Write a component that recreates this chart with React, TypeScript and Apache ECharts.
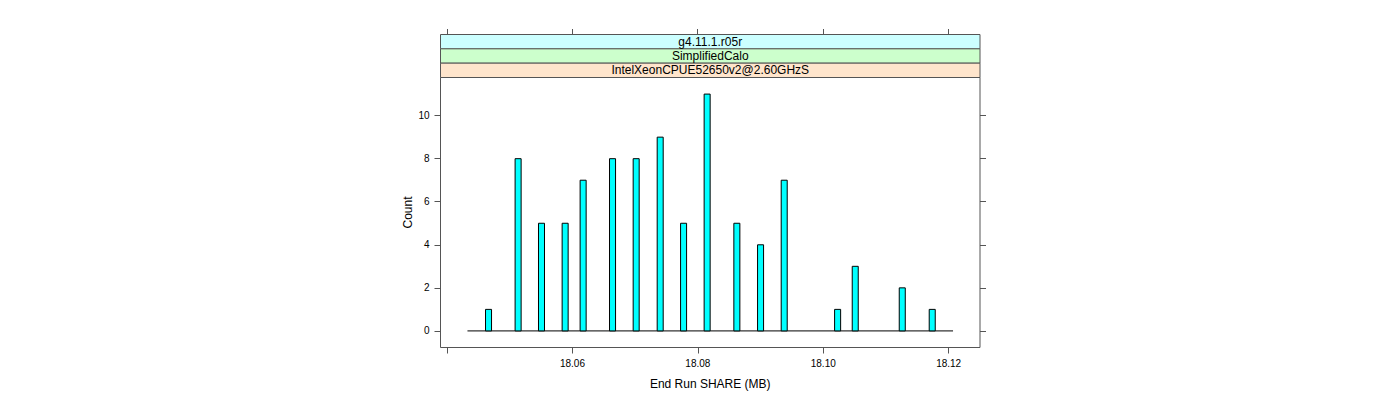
import React, { useEffect, useRef } from "react";
import * as echarts from "echarts";

// Histogram bins (centres) and their counts
const binCenters = [
  18.04661, 18.05133, 18.05506, 18.05883, 18.0617, 18.06639, 18.07016, 18.07399,
  18.07772, 18.08148, 18.08622, 18.09, 18.09377, 18.10229, 18.1051, 18.1126, 18.11738,
];
const counts = [1, 8, 5, 5, 7, 8, 8, 9, 5, 11, 5, 4, 7, 1, 3, 2, 1];
const binWidth = 0.00096;
const histRange = [18.04325, 18.1207];

const xTicks = [18.04, 18.06, 18.08, 18.1, 18.12];
const xLabels = [18.06, 18.08, 18.1, 18.12];
const yTicks = [0, 2, 4, 6, 8, 10];

const strips = ["g4.11.1.r05r", "SimplifiedCalo", "IntelXeonCPUE52650v2@2.60GHzS"];
const stripColors = ["#ccffff", "#ccffcc", "#ffe5cc"];

const xTitle = "End Run SHARE (MB)";
const yTitle = "Count";

const FONT = "'Liberation Sans', Arial, Helvetica, sans-serif";
const AXIS_COL = "#555";

export default function App() {
  const ref = useRef<HTMLDivElement>(null);

  useEffect(() => {
    document.body.style.margin = "0";
    if (!ref.current) return;
    const chart = echarts.init(ref.current, undefined, { renderer: "svg" });

    const gridLeft = 440.5;
    const gridTop = 77.5;
    const gridWidth = 539.5;
    const gridHeight = 270;
    const xMin = 18.03895;
    const xMax = 18.125;
    const yMin = -0.77;
    const yMax = 11.77;

    const stripTop = 34.5;
    const stripH = (gridTop - stripTop) / strips.length;

    const tickStyle = { color: AXIS_COL, width: 1 };
    const noLine = { show: false, onZero: false };

    chart.setOption({
      animation: false,
      backgroundColor: "#fff",
      textStyle: { fontFamily: FONT },
      grid: {
        left: gridLeft,
        top: gridTop,
        width: gridWidth,
        height: gridHeight,
        show: true,
        borderColor: AXIS_COL,
        borderWidth: 1,
        backgroundColor: "transparent",
      },
      xAxis: {
        type: "value",
        position: "bottom",
        min: xMin,
        max: xMax,
        axisLine: noLine,
        splitLine: { show: false },
        axisTick: { show: true, customValues: xTicks, length: 6, lineStyle: tickStyle },
        axisLabel: {
          customValues: xLabels,
          formatter: (v: number) => v.toFixed(2),
          fontSize: 10,
          color: "#000",
          margin: 11,
          fontFamily: FONT,
        },
        name: xTitle,
        nameLocation: "middle",
        nameGap: 30,
        nameTextStyle: { fontSize: 12, color: "#000", fontFamily: FONT },
      },
      yAxis: [
        {
          type: "value",
          position: "left",
          min: yMin,
          max: yMax,
          axisLine: noLine,
          splitLine: { show: false },
          axisTick: { show: true, customValues: yTicks, length: 6, lineStyle: tickStyle },
          axisLabel: {
            customValues: yTicks,
            fontSize: 10,
            color: "#000",
            margin: 11,
            fontFamily: FONT,
          },
          name: yTitle,
          nameLocation: "middle",
          nameGap: 27,
          nameRotate: 90,
          nameTextStyle: { fontSize: 12, color: "#000", fontFamily: FONT },
        },
        {
          type: "value",
          position: "right",
          min: yMin,
          max: yMax,
          axisLine: noLine,
          splitLine: { show: false },
          axisTick: { show: true, customValues: yTicks, length: 6, lineStyle: tickStyle },
          axisLabel: { show: false },
        },
      ],
      series: [
        {
          type: "line",
          data: [
            [histRange[0], 0],
            [histRange[1], 0],
          ],
          symbol: "none",
          lineStyle: { color: "#000", width: 1 },
          silent: true,
          z: 1,
        },
        {
          type: "custom",
          data: binCenters.map((c, i) => [c, counts[i]]),
          renderItem: (params: any, api: any) => {
            const c = api.value(0);
            const n = api.value(1);
            const p0 = api.coord([c - binWidth / 2, n]);
            const p1 = api.coord([c + binWidth / 2, 0]);
            return {
              type: "rect",
              shape: { x: p0[0], y: p0[1], width: p1[0] - p0[0], height: p1[1] - p0[1] },
              style: { fill: "#00ffff", stroke: "#000", lineWidth: 1 },
            };
          },
          encode: { x: 0, y: 1 },
          silent: true,
          z: 2,
        },
      ],
    });

    // strips and the top-axis ticks (positions from the chart's own x scale)
    const graphics: any[] = [];
    strips.forEach((s, i) => {
      graphics.push({
        type: "rect",
        shape: { x: gridLeft, y: stripTop + i * stripH, width: gridWidth, height: stripH },
        style: { fill: stripColors[i], stroke: AXIS_COL, lineWidth: 1 },
        z: 10,
      });
      graphics.push({
        type: "text",
        x: gridLeft + gridWidth / 2,
        y: stripTop + i * stripH + stripH / 2,
        style: {
          text: s,
          fill: "#000",
          font: `12px ${FONT}`,
          align: "center",
          verticalAlign: "middle",
        },
        z: 11,
      });
    });
    xTicks.forEach((v) => {
      const px = Number(chart.convertToPixel({ xAxisIndex: 0 }, v));
      graphics.push({
        type: "rect",
        shape: { x: Math.floor(px), y: 29, width: 1, height: 5.5 },
        style: { fill: AXIS_COL },
        z: 12,
      });
    });
    chart.setOption({ graphic: graphics });

    return () => {
      chart.dispose();
    };
  }, []);

  return <div ref={ref} style={{ width: 1400, height: 400 }} />;
}
